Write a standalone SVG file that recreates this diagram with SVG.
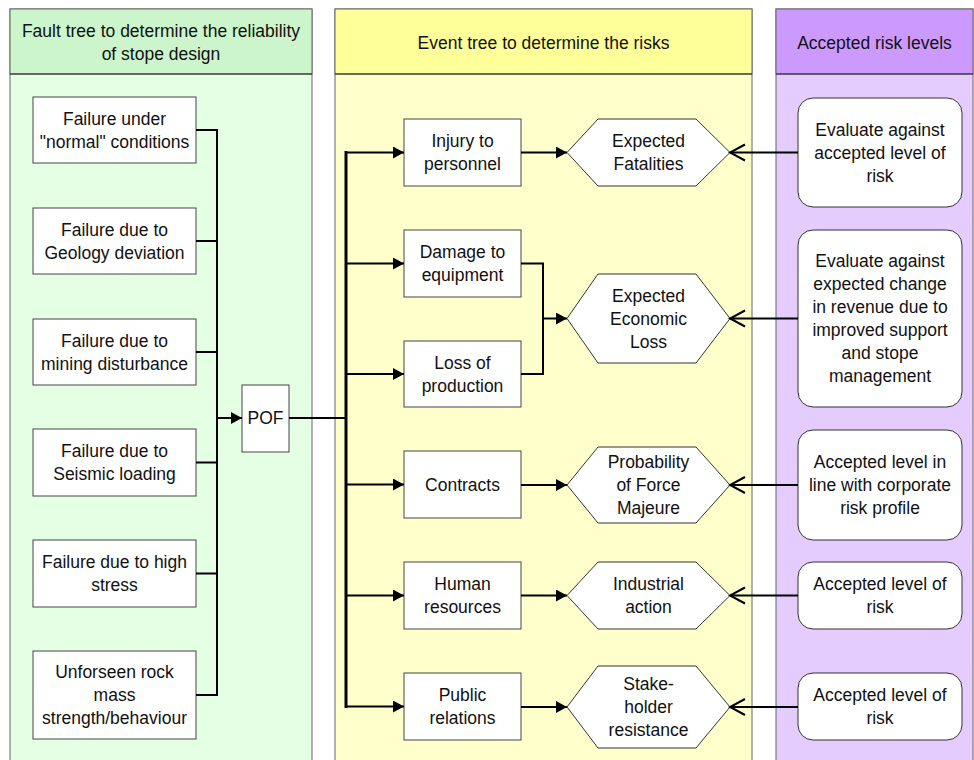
<svg xmlns="http://www.w3.org/2000/svg" width="974" height="760" viewBox="0 0 974 760">
<style>
text{font-family:"Liberation Sans",Arial,sans-serif;font-size:17.5px;fill:#111;text-anchor:middle}
.box{fill:#fff;stroke:#444;stroke-width:1}
.rbox{fill:#fff;stroke:#333;stroke-width:1}
.hex{fill:#fff;stroke:#333;stroke-width:1}
.pan{stroke:#666;stroke-width:1}
.hdiv{stroke:#222;stroke-width:1}
.c{fill:none;stroke:#000;stroke-width:2}
</style>
<defs>
<marker id="fa" markerUnits="userSpaceOnUse" markerWidth="12" markerHeight="13" refX="11" refY="6" orient="auto"><path d="M0,0 L11,6 L0,12 z" fill="#000"/></marker>
<marker id="oa" markerUnits="userSpaceOnUse" markerWidth="18" markerHeight="20" refX="16" refY="9" orient="auto"><path d="M1,1 L16,9 L1,17" fill="none" stroke="#000" stroke-width="2"/></marker>
</defs>
<rect width="974" height="760" fill="#fff"/>
<g id="panel-fault">
<rect class="pan" x="10" y="9" width="302" height="770" fill="#e5ffe5"/>
<rect class="pan" x="10" y="9" width="302" height="65" fill="#ccf5cc"/>
<line class="hdiv" x1="10" y1="74" x2="312" y2="74"/>
<text x="161" y="37">Fault tree to determine the reliability</text>
<text x="161" y="60">of stope design</text>
</g>
<g id="panel-event">
<rect class="pan" x="335" y="9" width="417" height="770" fill="#ffffcc"/>
<rect class="pan" x="335" y="9" width="417" height="65" fill="#ffff99"/>
<line class="hdiv" x1="335" y1="74" x2="752" y2="74"/>
<text x="543.5" y="49">Event tree to determine the risks</text>
</g>
<g id="panel-accepted">
<rect class="pan" x="776" y="9" width="197" height="770" fill="#e5ccff"/>
<rect class="pan" x="776" y="9" width="197" height="65" fill="#cc99ff"/>
<line class="hdiv" x1="776" y1="74" x2="973" y2="74"/>
<text x="874.5" y="49">Accepted risk levels</text>
</g>
<g id="f1"><rect class="box" x="33" y="97" width="163" height="66"/><text x="114.5" y="124.5">Failure under</text><text x="114.5" y="147.5">"normal" conditions</text></g>
<g id="f2"><rect class="box" x="33" y="208" width="163" height="66"/><text x="114.5" y="235.5">Failure due to</text><text x="114.5" y="258.5">Geology deviation</text></g>
<g id="f3"><rect class="box" x="33" y="319" width="163" height="66"/><text x="114.5" y="346.5">Failure due to</text><text x="114.5" y="369.5">mining disturbance</text></g>
<g id="f4"><rect class="box" x="33" y="429" width="163" height="67"/><text x="114.5" y="457">Failure due to</text><text x="114.5" y="480">Seismic loading</text></g>
<g id="f5"><rect class="box" x="33" y="540" width="163" height="67"/><text x="114.5" y="568">Failure due to high</text><text x="114.5" y="591">stress</text></g>
<g id="f6"><rect class="box" x="33" y="651" width="163" height="88"/><text x="114.5" y="678">Unforseen rock</text><text x="114.5" y="701">mass</text><text x="114.5" y="724">strength/behaviour</text></g>
<g id="pof"><rect class="box" x="242" y="385" width="47" height="67"/><text x="265.5" y="424">POF</text></g>
<g id="e1"><rect class="box" x="404" y="119" width="117" height="67"/><text x="462.5" y="147">Injury to</text><text x="462.5" y="170">personnel</text></g>
<g id="e2"><rect class="box" x="404" y="230" width="117" height="67"/><text x="462.5" y="258">Damage to</text><text x="462.5" y="281">equipment</text></g>
<g id="e3"><rect class="box" x="404" y="341" width="117" height="66"/><text x="462.5" y="368.5">Loss of</text><text x="462.5" y="391.5">production</text></g>
<g id="e4"><rect class="box" x="404" y="451" width="117" height="67"/><text x="462.5" y="491">Contracts</text></g>
<g id="e5"><rect class="box" x="404" y="562" width="117" height="67"/><text x="462.5" y="590">Human</text><text x="462.5" y="613">resources</text></g>
<g id="e6"><rect class="box" x="404" y="673" width="117" height="67"/><text x="462.5" y="701">Public</text><text x="462.5" y="724">relations</text></g>
<g id="h1"><polygon class="hex" points="567,152.5 598,119 696,119 730,152.5 696,186 598,186"/><text x="648.5" y="147">Expected</text><text x="648.5" y="170">Fatalities</text></g>
<g id="h2"><polygon class="hex" points="567,318.5 598,274 696,274 730,318.5 696,363 598,363"/><text x="648.5" y="301.5">Expected</text><text x="648.5" y="324.5">Economic</text><text x="648.5" y="347.5">Loss</text></g>
<g id="h3"><polygon class="hex" points="567,485 598,447 696,447 730,485 696,523 598,523"/><text x="648.5" y="468">Probability</text><text x="648.5" y="491">of Force</text><text x="648.5" y="514">Majeure</text></g>
<g id="h4"><polygon class="hex" points="567,595.5 598,562 696,562 730,595.5 696,629 598,629"/><text x="648.5" y="590">Industrial</text><text x="648.5" y="613">action</text></g>
<g id="h5"><polygon class="hex" points="567,707 598,666 696,666 730,707 696,748 598,748"/><text x="648.5" y="690">Stake-</text><text x="648.5" y="713">holder</text><text x="648.5" y="736">resistance</text></g>
<g id="r1"><rect class="rbox" x="798" y="98" width="164" height="109" rx="15"/><text x="880" y="135.5">Evaluate against</text><text x="880" y="158.5">accepted level of</text><text x="880" y="181.5">risk</text></g>
<g id="r2"><rect class="rbox" x="798" y="230" width="164" height="177" rx="15"/><text x="880" y="266.5">Evaluate against</text><text x="880" y="289.5">expected change</text><text x="880" y="312.5">in revenue due to</text><text x="880" y="335.5">improved support</text><text x="880" y="358.5">and stope</text><text x="880" y="381.5">management</text></g>
<g id="r3"><rect class="rbox" x="798" y="430" width="164" height="110" rx="15"/><text x="880" y="468">Accepted level in</text><text x="880" y="491">line with corporate</text><text x="880" y="514">risk profile</text></g>
<g id="r4"><rect class="rbox" x="798" y="562" width="164" height="67" rx="15"/><text x="880" y="590">Accepted level of</text><text x="880" y="613">risk</text></g>
<g id="r5"><rect class="rbox" x="798" y="673" width="164" height="67" rx="15"/><text x="880" y="701">Accepted level of</text><text x="880" y="724">risk</text></g>
<g id="connectors">
<path class="c" d="M196,130 H217 M196,241 H217 M196,352 H217 M196,462.5 H217 M196,573.5 H217 M196,695 H217 M217,129 V696"/>
<line class="c" x1="217" y1="418" x2="242" y2="418" marker-end="url(#fa)"/>
<line class="c" x1="289" y1="418" x2="346" y2="418"/>
<line x1="346" y1="151" x2="346" y2="708" stroke="#000" stroke-width="3"/>
<line class="c" x1="346" y1="152.5" x2="404" y2="152.5" marker-end="url(#fa)"/>
<line class="c" x1="346" y1="263.5" x2="404" y2="263.5" marker-end="url(#fa)"/>
<line class="c" x1="346" y1="374" x2="404" y2="374" marker-end="url(#fa)"/>
<line class="c" x1="346" y1="484.5" x2="404" y2="484.5" marker-end="url(#fa)"/>
<line class="c" x1="346" y1="595.5" x2="404" y2="595.5" marker-end="url(#fa)"/>
<line class="c" x1="346" y1="706.5" x2="404" y2="706.5" marker-end="url(#fa)"/>
<line class="c" x1="521" y1="152.5" x2="567" y2="152.5" marker-end="url(#fa)"/>
<path class="c" d="M521,263.5 H543 V374 H521"/>
<line class="c" x1="543" y1="318.5" x2="567" y2="318.5" marker-end="url(#fa)"/>
<line class="c" x1="521" y1="485" x2="567" y2="485" marker-end="url(#fa)"/>
<line class="c" x1="521" y1="595.5" x2="567" y2="595.5" marker-end="url(#fa)"/>
<line class="c" x1="521" y1="707" x2="567" y2="707" marker-end="url(#fa)"/>
<line class="c" x1="798" y1="152.5" x2="730" y2="152.5" marker-end="url(#oa)"/>
<line class="c" x1="798" y1="318.5" x2="730" y2="318.5" marker-end="url(#oa)"/>
<line class="c" x1="798" y1="485" x2="730" y2="485" marker-end="url(#oa)"/>
<line class="c" x1="798" y1="595.5" x2="730" y2="595.5" marker-end="url(#oa)"/>
<line class="c" x1="798" y1="707" x2="730" y2="707" marker-end="url(#oa)"/>
</g>
</svg>
